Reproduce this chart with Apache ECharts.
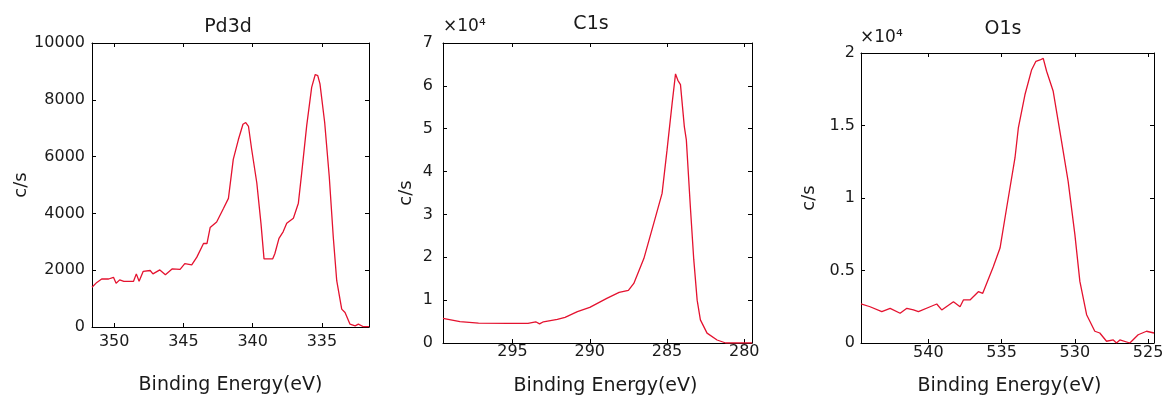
<!DOCTYPE html>
<html>
<head>
<meta charset="utf-8">
<script src="https://cdn.jsdelivr.net/npm/echarts@6/dist/echarts.min.js"></script>
<style>
html,body{margin:0;padding:0;background:#fff;}
#chart{width:1165px;height:399px;}
</style>
</head>
<body>
<div id="chart"></div>
<script>
// ---------- data ----------
const panelTitles = ['Pd3d', 'C1s', 'O1s'];
const xAxisTitle = 'Binding Energy(eV)';
const yAxisTitle = 'c/s';
const scaleNote = '×10⁴';

const pdEnergy = [351.6,351.25,350.9,350.4,350.05,349.86,349.6,349.3,348.6,348.4,348.2,347.9,347.4,347.2,346.7,346.3,345.8,345.24,344.9,344.4,344.03,343.55,343.3,343.07,342.6,342.1,341.75,341.4,341.03,340.7,340.5,340.3,340.07,339.7,339.4,339.18,338.55,338.4,338.1,337.8,337.54,337.06,336.7,336.46,336.1,335.74,335.48,335.3,335.14,334.8,334.47,334.18,333.93,333.57,333.33,332.97,332.6,332.37,332.0,331.6];
const pdCounts = [1400,1570,1690,1690,1750,1540,1660,1610,1610,1870,1610,1960,1990,1870,2010,1840,2050,2030,2230,2190,2460,2940,2940,3500,3700,4180,4530,5900,6600,7140,7200,7060,6250,5070,3650,2400,2400,2580,3120,3350,3650,3830,4360,5420,7080,8440,8890,8850,8560,7200,5300,3170,1630,630,510,100,40,100,10,10];

const c1sEnergy = [299.5,298.4,297.2,295.3,294.0,293.5,293.25,293.0,292.1,291.6,290.8,290.0,288.9,288.1,287.5,287.15,286.5,285.86,285.32,285.0,284.67,284.45,284.3,284.13,283.88,283.75,283.49,283.27,283.05,282.84,282.41,281.76,281.2,279.5];
const c1sCounts = [5760,5000,4650,4600,4600,4950,4450,4950,5500,6000,7300,8300,10400,11800,12300,13900,19700,27900,34900,45000,55900,62800,61300,60300,50500,47400,31800,19500,10000,5400,2300,700,0,0];

const o1sEnergy = [544.6,543.98,543.18,542.61,541.93,541.47,541.02,540.68,539.88,539.43,539.09,538.29,537.84,537.61,537.16,536.59,536.29,535.57,535.11,534.66,534.09,533.86,533.41,532.95,532.66,532.38,532.16,531.93,531.48,530.91,530.46,530.0,529.66,529.2,528.64,528.3,527.84,527.38,527.16,526.93,526.25,525.68,525.11,524.6];
const o1sCounts = [2690,2500,2160,2390,2050,2390,2280,2160,2500,2690,2280,2850,2500,2970,2970,3540,3430,5260,6550,9310,12760,14830,17120,18850,19430,19520,19630,18740,17360,13910,11150,7470,4250,1950,810,690,120,210,0,210,0,570,810,690];

const pdXTicks = [350,345,340,335];
const c1sXTicks = [295,290,285,280];
const o1sXTicks = [540,535,530,525];

// ---------- layout / style ----------
const FONT = 'DejaVu Sans';
const TXT = '#1a1a1a';
const LINE = '#e4122f';
const grids = [
  {left:92, top:43, width:277, height:284},
  {left:443, top:43, width:309, height:300},
  {left:861, top:53, width:293, height:290}
];
const xRanges = [[331.6,351.6],[279.5,299.5],[524.6,544.6]];
const yRanges = [[0,10000,2000],[0,70000,10000],[0,20000,5000]];
const xTicks = [pdXTicks, c1sXTicks, o1sXTicks];
const series = [[pdEnergy,pdCounts],[c1sEnergy,c1sCounts],[o1sEnergy,o1sCounts]];
const yFmt = [v => String(v), v => String(v/10000), v => String(v/10000)];
const xLabelMargin = [7, 1, 2];
const yLabelMargin = [7, 10, 6];
const yNameGap = [62, 28, 43];
const xNameGap = [49, 34, 34];
const xNamePad = [[0,0,0,0],[0,0,0,16],[0,0,0,4]];

const xAxes = [], yAxes = [], seriesList = [];
grids.forEach((g, i) => {
  const axLine = {show:true, onZero:false, lineStyle:{color:'#000', width:1}};
  xAxes.push({
    type:'value', gridIndex:i, position:'bottom', inverse:true,
    min:xRanges[i][0], max:xRanges[i][1],
    axisLine:axLine,
    axisTick:{show:true, inside:true, length:4, customValues:xTicks[i], lineStyle:{color:'#000'}},
    axisLabel:{show:true, customValues:xTicks[i], margin:xLabelMargin[i], color:TXT, fontFamily:FONT, fontSize:16, hideOverlap:false},
    splitLine:{show:false},
    name:xAxisTitle, nameLocation:'middle', nameGap:xNameGap[i],
    nameTextStyle:{color:TXT, fontFamily:FONT, fontSize:19, padding:xNamePad[i]}
  });
  xAxes.push({
    type:'value', gridIndex:i, position:'top', inverse:true,
    min:xRanges[i][0], max:xRanges[i][1],
    axisLine:axLine,
    axisTick:{show:true, inside:true, length:4, customValues:xTicks[i], lineStyle:{color:'#000'}},
    axisLabel:{show:false}, splitLine:{show:false}
  });
  yAxes.push({
    type:'value', gridIndex:i, position:'left',
    min:yRanges[i][0], max:yRanges[i][1], interval:yRanges[i][2],
    axisLine:axLine,
    axisTick:{show:true, inside:true, length:4, lineStyle:{color:'#000'}},
    axisLabel:{show:true, margin:yLabelMargin[i], color:TXT, fontFamily:FONT, fontSize:16, formatter:yFmt[i]},
    splitLine:{show:false},
    name:yAxisTitle, nameLocation:'middle', nameGap:yNameGap[i], nameRotate:90,
    nameTextStyle:{color:TXT, fontFamily:FONT, fontSize:18}
  });
  yAxes.push({
    type:'value', gridIndex:i, position:'right',
    min:yRanges[i][0], max:yRanges[i][1], interval:yRanges[i][2],
    axisLine:axLine,
    axisTick:{show:true, inside:true, length:4, lineStyle:{color:'#000'}},
    axisLabel:{show:false}, splitLine:{show:false}
  });
  const xs = series[i][0], ys = series[i][1];
  seriesList.push({
    type:'line', name:panelTitles[i], xAxisIndex:2*i, yAxisIndex:2*i,
    data: xs.map((x, k) => [x, ys[k]]),
    showSymbol:false, symbol:'none', smooth:false,
    lineStyle:{color:LINE, width:1.3}, clip:true
  });
});

const titleStyle = {color:TXT, fontFamily:FONT, fontSize:19, fontWeight:'normal'};
const noteStyle = {color:TXT, fontFamily:FONT, fontSize:17, fontWeight:'normal'};
const titles = [
  {text:panelTitles[0], left:228, top:27, textAlign:'center', textVerticalAlign:'middle', padding:0, textStyle:titleStyle},
  {text:panelTitles[1], left:591, top:24, textAlign:'center', textVerticalAlign:'middle', padding:0, textStyle:titleStyle},
  {text:panelTitles[2], left:1003, top:29, textAlign:'center', textVerticalAlign:'middle', padding:0, textStyle:titleStyle},
  {text:scaleNote, left:443, top:27, textAlign:'left', textVerticalAlign:'middle', padding:0, textStyle:noteStyle},
  {text:scaleNote, left:860, top:38, textAlign:'left', textVerticalAlign:'middle', padding:0, textStyle:noteStyle}
];

const chart = echarts.init(document.getElementById('chart'), null, {renderer:'canvas'});
chart.setOption({
  backgroundColor:'#fff',
  animation:false,
  title:titles,
  grid:grids.map(g => Object.assign({containLabel:false, outerBoundsMode:'none'}, g)),
  xAxis:xAxes,
  yAxis:yAxes,
  series:seriesList
});
</script>
</body>
</html>
